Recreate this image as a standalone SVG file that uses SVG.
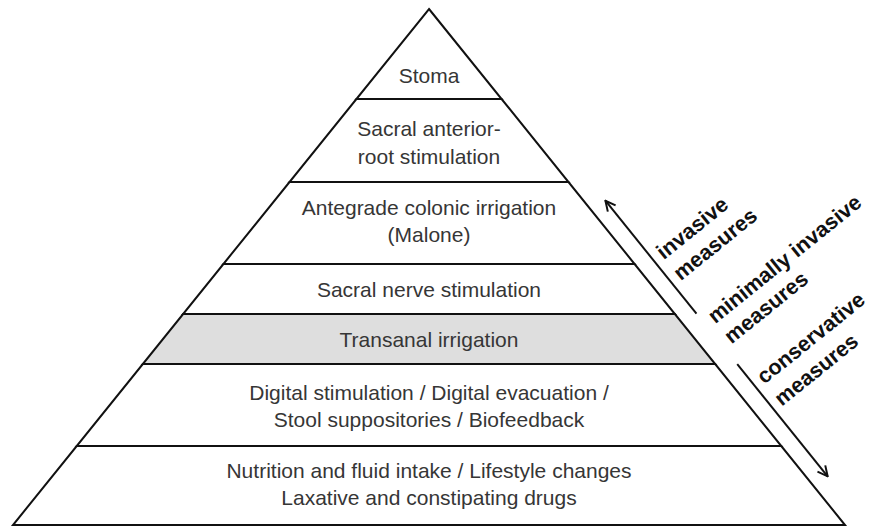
<svg xmlns="http://www.w3.org/2000/svg" width="871" height="526" viewBox="0 0 871 526">
  <defs>
    <style>
      .band { fill: #ffffff; stroke: #111111; stroke-width: 2; stroke-linejoin: miter; }
      .band.shaded { fill: #dedede; }
      .lbl { font-family: "Liberation Sans", Arial, sans-serif; font-size: 21px; fill: #363636; text-anchor: middle; }
      .side { font-family: "Liberation Sans", Arial, sans-serif; font-size: 21.5px; font-weight: bold; fill: #111111; }
      .arrow { fill: none; stroke: #111111; stroke-width: 2; }
    </style>
    <marker id="head" viewBox="0 0 12 12" refX="11" refY="6" markerWidth="12" markerHeight="12" markerUnits="userSpaceOnUse" orient="auto">
      <path d="M1,1 L11,6 L1,11" fill="none" stroke="#111111" stroke-width="2"/>
    </marker>
  </defs>

  <rect width="871" height="526" fill="#ffffff"/>

  <!-- pyramid levels, top to bottom -->
  <g id="stoma">
    <polygon class="band" points="429,9 501.6,99 356.4,99"/>
    <text class="lbl" x="429" y="83">Stoma</text>
  </g>
  <g id="sacral-anterior-root">
    <polygon class="band" points="356.4,99 501.6,99 568.5,182 289.5,182"/>
    <text class="lbl" x="429" y="136">Sacral anterior-</text>
    <text class="lbl" x="429" y="164">root stimulation</text>
  </g>
  <g id="antegrade-irrigation">
    <polygon class="band" points="289.5,182 568.5,182 634.6,264 223.4,264"/>
    <text class="lbl" x="429" y="215">Antegrade colonic irrigation</text>
    <text class="lbl" x="429" y="242">(Malone)</text>
  </g>
  <g id="sacral-nerve">
    <polygon class="band" points="223.4,264 634.6,264 674.9,314 183.1,314"/>
    <text class="lbl" x="429" y="297">Sacral nerve stimulation</text>
  </g>
  <g id="transanal-irrigation">
    <polygon class="band shaded" points="183.1,314 674.9,314 715.2,364 142.8,364"/>
    <text class="lbl" x="429" y="347">Transanal irrigation</text>
  </g>
  <g id="digital-biofeedback">
    <polygon class="band" points="142.8,364 715.2,364 781.3,446 76.7,446"/>
    <text class="lbl" x="429" y="400">Digital stimulation / Digital evacuation /</text>
    <text class="lbl" x="429" y="427">Stool suppositories / Biofeedback</text>
  </g>
  <g id="nutrition-lifestyle">
    <polygon class="band" points="76.7,446 781.3,446 845,525 13,525"/>
    <text class="lbl" x="429" y="478">Nutrition and fluid intake / Lifestyle changes</text>
    <text class="lbl" x="429" y="505">Laxative and constipating drugs</text>
  </g>

  <!-- direction arrows alongside the right edge (local frame: x away from edge, y down the edge) -->
  <g id="connectors" transform="translate(429,9) rotate(-38.88)">
    <line class="arrow" x1="17" y1="405" x2="17" y2="260" marker-end="url(#head)"/>
    <line class="arrow" x1="17" y1="470" x2="17" y2="614" marker-end="url(#head)"/>
  </g>

  <!-- category labels -->
  <g id="category-labels" transform="translate(429,9) rotate(-38.88)">
    <g id="invasive">
      <text class="side" x="25" y="343">invasive</text>
      <text class="side" x="25" y="370">measures</text>
    </g>
    <g id="minimally-invasive">
      <text class="side" x="25" y="425">minimally invasive</text>
      <text class="side" x="25" y="451">measures</text>
    </g>
    <g id="conservative">
      <text class="side" x="25" y="503">conservative</text>
      <text class="side" x="25" y="531">measures</text>
    </g>
  </g>
</svg>
